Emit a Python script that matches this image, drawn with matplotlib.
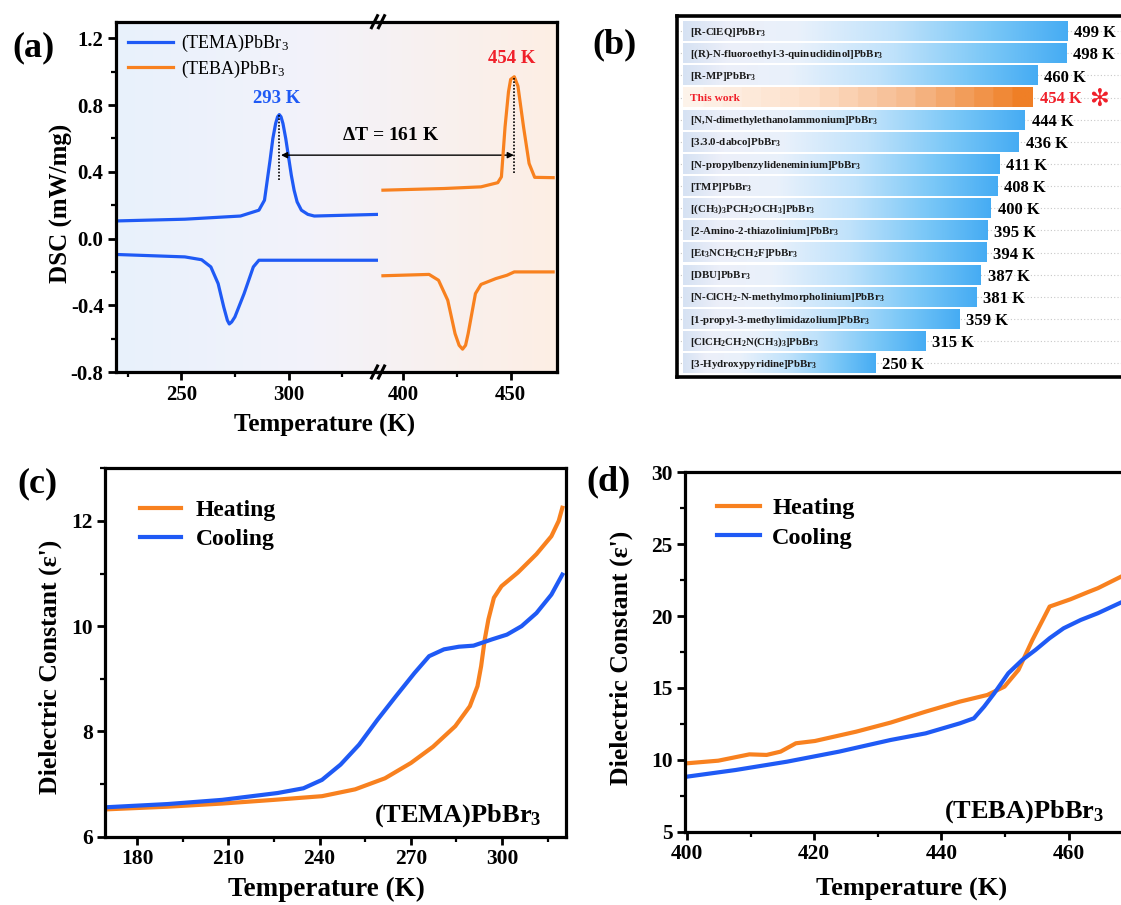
"""DSC / phase-transition comparison / dielectric constant figure"""

import matplotlib

matplotlib.use("Agg")
import matplotlib.pyplot as plt
import numpy as np
from matplotlib.colors import LinearSegmentedColormap
from matplotlib.lines import Line2D
from matplotlib.ticker import MultipleLocator

plt.rcParams["font.family"] = ["Liberation Serif", "DejaVu Serif"]
plt.rcParams["font.weight"] = "bold"
plt.rcParams["mathtext.fontset"] = "custom"
plt.rcParams["mathtext.rm"] = "Liberation Serif:bold"
plt.rcParams["mathtext.it"] = "Liberation Serif:italic:bold"
plt.rcParams["mathtext.bf"] = "Liberation Serif:bold"

BLUE = "#1f5af5"
ORANGE = "#f8811f"
RED = "#f0202a"

# ---------------- (a) DSC ----------------
tema_heat_T = [221.0, 251.7, 277.6, 286.2, 288.8, 291.4, 292.7, 294.0, 294.9, 295.7,
               296.5, 297.4, 298.7, 300.0, 301.3, 302.6, 304.0, 306.0, 309.0, 312.0, 342.2]
tema_heat_v = [0.106, 0.116, 0.135, 0.17, 0.23, 0.47, 0.60, 0.69, 0.73, 0.743,
               0.73, 0.69, 0.60, 0.49, 0.38, 0.29, 0.22, 0.17, 0.145, 0.135, 0.145]
tema_cool_T = [221.0, 251.7, 259.5, 263.8, 267.2, 269.8, 271.5, 272.4, 273.5, 275.0,
               279.3, 283.6, 286.2, 342.2]
tema_cool_v = [-0.096, -0.11, -0.127, -0.17, -0.27, -0.41, -0.49, -0.512, -0.50, -0.47,
               -0.33, -0.17, -0.13, -0.13]
teba_heat_T = [390.5, 419.0, 436.2, 444.0, 445.7, 447.4, 449.0, 450.0, 451.7, 453.4,
               456.0, 458.6, 461.2, 469.8]
teba_heat_v = [0.29, 0.30, 0.31, 0.335, 0.37, 0.67, 0.88, 0.954, 0.97, 0.914,
               0.67, 0.45, 0.367, 0.365]
teba_cool_T = [390.5, 412.0, 416.4, 420.7, 424.1, 426.0, 427.6, 429.0, 430.2, 433.6,
               436.2, 443.1, 448.3, 451.7, 469.8]
teba_cool_v = [-0.223, -0.215, -0.25, -0.37, -0.57, -0.64, -0.663, -0.64, -0.57, -0.33,
               -0.275, -0.24, -0.22, -0.20, -0.20]
tema_peak = (295.7, 0.743)
teba_peak = (451.7, 0.965)

# ---------------- (b) Tc comparison ----------------
compounds = [
    r"[R-ClEQ]PbBr$_\mathregular{3}$",
    r"[(R)-N-fluoroethyl-3-quinuclidinol]PbBr$_\mathregular{3}$",
    r"[R-MP]PbBr$_\mathregular{3}$",
    "This work",
    r"[N,N-dimethylethanolammonium]PbBr$_\mathregular{3}$",
    r"[3.3.0-dabco]PbBr$_\mathregular{3}$",
    r"[N-propylbenzylideneminium]PbBr$_\mathregular{3}$",
    r"[TMP]PbBr$_\mathregular{3}$",
    r"[(CH$_\mathregular{3}$)$_\mathregular{3}$PCH$_\mathregular{2}$OCH$_\mathregular{3}$]PbBr$_\mathregular{3}$",
    r"[2-Amino-2-thiazolinium]PbBr$_\mathregular{3}$",
    r"[Et$_\mathregular{3}$NCH$_\mathregular{2}$CH$_\mathregular{2}$F]PbBr$_\mathregular{3}$",
    r"[DBU]PbBr$_\mathregular{3}$",
    r"[N-ClCH$_\mathregular{2}$-N-methylmorpholinium]PbBr$_\mathregular{3}$",
    r"[1-propyl-3-methylimidazolium]PbBr$_\mathregular{3}$",
    r"[ClCH$_\mathregular{2}$CH$_\mathregular{2}$N(CH$_\mathregular{3}$)$_\mathregular{3}$]PbBr$_\mathregular{3}$",
    r"[3-Hydroxypyridine]PbBr$_\mathregular{3}$",
]
tc_values = [499, 498, 460, 454, 444, 436, 411, 408, 400, 395, 394, 387, 381, 359, 315, 250]
this_work_idx = 3

# ---------------- (c) (TEMA)PbBr3 dielectric ----------------
c_heat_T = [170.0, 190.0, 208.0, 225.0, 240.8, 251.7, 261.5, 270.0, 277.3, 284.6, 289.4,
            291.9, 293.1, 294.3, 295.5, 297.3, 299.8, 305.2, 311.3, 316.2, 318.6, 319.8]
c_heat_v = [6.52, 6.57, 6.63, 6.70, 6.77, 6.90, 7.11, 7.40, 7.71, 8.10, 8.48,
            8.86, 9.24, 9.75, 10.13, 10.54, 10.76, 11.02, 11.37, 11.71, 12.0, 12.25]
c_cool_T = [170.0, 190.0, 208.0, 226.2, 234.7, 240.8, 246.9, 253.0, 259.0, 265.1, 271.2,
            276.0, 280.9, 285.8, 290.6, 296.7, 301.6, 306.4, 311.3, 316.2, 319.8]
c_cool_v = [6.56, 6.62, 6.70, 6.83, 6.92, 7.08, 7.37, 7.75, 8.22, 8.67, 9.11,
            9.43, 9.56, 9.61, 9.63, 9.75, 9.84, 10.0, 10.25, 10.6, 10.98]

# ---------------- (d) (TEBA)PbBr3 dielectric ----------------
d_heat_T = [400.0, 404.9, 409.8, 412.5, 414.7, 417.1, 420.1, 426.6, 432.0, 437.5, 442.9,
            447.2, 449.9, 452.1, 454.3, 457.0, 460.3, 463.0, 464.6, 468.5]
d_heat_v = [9.76, 9.94, 10.38, 10.34, 10.57, 11.15, 11.31, 11.96, 12.59, 13.35, 14.05,
            14.51, 15.09, 16.25, 18.34, 20.66, 21.17, 21.66, 21.94, 22.8]
d_cool_T = [400.0, 407.6, 415.7, 423.9, 432.0, 437.5, 442.9, 445.1, 446.7, 448.3, 450.5,
            452.7, 454.8, 457.0, 459.2, 461.9, 464.6, 468.5]
d_cool_v = [8.83, 9.29, 9.87, 10.57, 11.38, 11.84, 12.54, 12.89, 13.7, 14.63, 16.02,
            16.95, 17.65, 18.46, 19.15, 19.73, 20.2, 21.0]

W, H = 1121, 905
fig = plt.figure(figsize=(W / 100, H / 100), dpi=100)


def px_axes(x0, y0, x1, y1, **kw):
    return fig.add_axes([x0 / W, 1 - y1 / H, (x1 - x0) / W, (y1 - y0) / H], **kw)


def fig_text(x, y, s, **kw):
    fig.text(x / W, 1 - y / H, s, **kw)


def style_axis(ax, size=15):
    for sp in ax.spines.values():
        sp.set_linewidth(2.3)
    ax.tick_params(which="major", direction="out", length=6, width=2, labelsize=size, pad=3)
    ax.tick_params(which="minor", direction="out", length=3.5, width=1.6)
    for lab in ax.get_xticklabels() + ax.get_yticklabels():
        lab.set_fontweight("bold")


# ---- panel (a) ----
bg = px_axes(116, 21.7, 557, 372)
bg_cmap = LinearSegmentedColormap.from_list(
    "bg", [(0.0, "#e8f1fc"), (0.45, "#f3f3fa"), (1.0, "#fdeee4")])
bg.imshow(np.linspace(0, 1, 256).reshape(1, -1), cmap=bg_cmap, aspect="auto",
          extent=[0, 1, 0, 1])
bg.axis("off")

axL = px_axes(116, 21.7, 378, 372)
axR = px_axes(378, 21.7, 557, 372)
for ax in (axL, axR):
    ax.set_facecolor("none")
    ax.set_ylim(-0.8, 1.3)
    ax.yaxis.set_major_locator(MultipleLocator(0.4))
    ax.yaxis.set_minor_locator(MultipleLocator(0.2))
    ax.xaxis.set_major_locator(MultipleLocator(50))
    ax.xaxis.set_minor_locator(MultipleLocator(25))
axL.set_xlim(219.6, 341.7)
axR.set_xlim(388.2, 471.6)
axL.set_yticks([-0.8, -0.4, 0.0, 0.4, 0.8, 1.2])
axL.set_yticklabels(["-0.8", "-0.4", "0.0", "0.4", "0.8", "1.2"])
axL.spines["right"].set_visible(False)
axR.spines["left"].set_visible(False)
axR.tick_params(axis="y", which="both", left=False, labelleft=False)
style_axis(axL)
style_axis(axR)

lb, = axL.plot(tema_heat_T, tema_heat_v, color=BLUE, lw=2.3, label=r"(TEMA)PbBr$_\mathregular{3}$")
axL.plot(tema_cool_T, tema_cool_v, color=BLUE, lw=2.3)
lo, = axR.plot(teba_heat_T, teba_heat_v, color=ORANGE, lw=2.3, label=r"(TEBA)PbBr$_\mathregular{3}$")
axR.plot(teba_cool_T, teba_cool_v, color=ORANGE, lw=2.3)

axL.plot([tema_peak[0]] * 2, [0.35, tema_peak[1]], color="black", ls=(0, (1, 1)), lw=1.2)
axR.plot([teba_peak[0]] * 2, [0.39, teba_peak[1]], color="black", ls=(0, (1, 1)), lw=1.2)
axL.annotate("", xy=(tema_peak[0] + 0.8, 0.50), xycoords=axL.transData,
             xytext=(teba_peak[0] - 0.2, 0.50), textcoords=axR.transData,
             arrowprops=dict(arrowstyle="<|-|>", color="black", lw=1.0,
                             mutation_scale=9, shrinkA=0, shrinkB=0))
axL.text(294.6, 0.84, "293 K", color=BLUE, fontsize=13.5, fontweight="bold",
         ha="center", va="center")
axR.text(450.6, 1.08, "454 K", color=RED, fontsize=13.5, fontweight="bold",
         ha="center", va="center")
fig_text(391, 136, r"$\mathit{\Delta}$T = 161 K", fontsize=14, fontweight="bold",
         ha="center", va="center")

leg = axL.legend(handles=[lb, lo], loc="upper left", bbox_to_anchor=(0.045, 0.968),
                 frameon=False, borderpad=0, borderaxespad=0, handlelength=2.5,
                 handletextpad=0.45, labelspacing=0.25,
                 prop={"size": 13, "weight": "normal", "family": "Liberation Serif"})
for t in leg.get_texts():
    t.set_fontweight("normal")

# break marks
for yb in (21.7, 372):
    for dx in (-3.5, 3.5):
        x0 = 378 + dx
        fig.add_artist(Line2D([(x0 - 3) / W, (x0 + 3) / W],
                              [1 - (yb + 6) / H, 1 - (yb - 6) / H],
                              color="black", lw=2.2, transform=fig.transFigure))

fig_text(61, 203, "DSC (mW/mg)", fontsize=18, fontweight="bold", rotation=90,
         ha="center", va="center")
fig_text(325, 425, "Temperature (K)", fontsize=18, fontweight="bold",
         ha="center", va="center")
fig_text(33, 48, "(a)", fontsize=26, fontweight="bold", ha="center", va="center")

# ---- panel (b) ----
axb = px_axes(677, 16, 1140, 377)
x_left = -7.8
x_right = (1140 - 683) / 0.77
axb.set_xticks([])
axb.set_yticks([])
for sp in axb.spines.values():
    sp.set_linewidth(2.6)

blue_cmap = LinearSegmentedColormap.from_list(
    "bars", [(0.0, "#d6e2f3"), (0.12, "#eceff9"), (0.3, "#e9f1fb"), (0.55, "#bfe2fb"),
             (0.8, "#79c7f7"), (1.0, "#46acf3")])
orange_cmap = LinearSegmentedColormap.from_list(
    "thiswork", [(0.0, "#fdf3ea"), (0.35, "#fde0ca"), (0.65, "#f6bb8f"), (1.0, "#ef7f26")], N=18)
grad = np.linspace(0, 1, 256).reshape(1, -1)
bar_h = 0.9

for i, (name, val) in enumerate(zip(compounds, tc_values)):
    axb.hlines(i, x_left, x_right, colors="#c8c8c8", linestyles=(0, (1, 2)), lw=0.8, zorder=0)
    cmap = orange_cmap if i == this_work_idx else blue_cmap
    axb.imshow(grad, cmap=cmap, aspect="auto", zorder=1,
               extent=[0, val, i + bar_h / 2, i - bar_h / 2])
    if i == this_work_idx:
        axb.text(9, i + 0.05, name, color=RED, fontsize=8.2, fontweight="bold",
                 ha="left", va="center", zorder=3)
        axb.text(val + 9, i + 0.05, f"{val} K", color=RED, fontsize=12,
                 fontweight="bold", ha="left", va="center", zorder=3)
        axb.text(val + 73, i + 0.05, "\u273b", color=RED, fontsize=17,
                 family="DejaVu Sans", fontweight="bold", ha="left", va="center", zorder=3)
    else:
        axb.text(9, i + 0.05, name, color="#1a1a1a", fontsize=7.8, fontweight="bold",
                 ha="left", va="center", zorder=3)
        axb.text(val + 9, i + 0.1, f"{val} K", color="black", fontsize=12,
                 fontweight="bold", ha="left", va="center", zorder=3)
axb.set_xlim(x_left, x_right)
axb.set_ylim(len(tc_values) - 0.38, -0.68)
fig_text(614, 45, "(b)", fontsize=26, fontweight="bold", ha="center", va="center")

# ---- panel (c) ----
axc = px_axes(105.4, 468.3, 566, 836.7)
axc.plot(c_heat_T, c_heat_v, color=ORANGE, lw=3, label="Heating")
axc.plot(c_cool_T, c_cool_v, color=BLUE, lw=3, label="Cooling")
axc.set_xlim(169.6, 321)
axc.set_ylim(6, 13)
axc.xaxis.set_major_locator(MultipleLocator(30))
axc.xaxis.set_minor_locator(MultipleLocator(15))
axc.yaxis.set_major_locator(MultipleLocator(2))
axc.yaxis.set_minor_locator(MultipleLocator(1))
style_axis(axc, 15.5)
axc.legend(loc="upper left", bbox_to_anchor=(0.075, 0.915), frameon=False, borderpad=0,
           borderaxespad=0, handlelength=1.75, handletextpad=0.6, labelspacing=0.32,
           prop={"size": 17, "weight": "bold"})
fig_text(542, 822, r"(TEMA)PbBr$_\mathregular{3}$", fontsize=19, fontweight="bold",
         ha="right", va="baseline")
fig_text(50, 667, "Dielectric Constant (\u03b5')", fontsize=18.5, fontweight="bold",
         rotation=90, ha="center", va="center")
fig_text(326, 889, "Temperature (K)", fontsize=19.5, fontweight="bold",
         ha="center", va="center")
fig_text(37, 484, "(c)", fontsize=26, fontweight="bold", ha="center", va="center")

# ---- panel (d) ----
axd = px_axes(685.2, 472.3, 1145, 831.7)
axd.plot(d_heat_T, d_heat_v, color=ORANGE, lw=3, label="Heating")
axd.plot(d_cool_T, d_cool_v, color=BLUE, lw=3, label="Cooling")
axd.set_xlim(399.7, 472)
axd.set_ylim(5, 30)
axd.xaxis.set_major_locator(MultipleLocator(20))
axd.xaxis.set_minor_locator(MultipleLocator(10))
axd.yaxis.set_major_locator(MultipleLocator(5))
axd.yaxis.set_minor_locator(MultipleLocator(2.5))
style_axis(axd, 15.5)
axd.legend(loc="upper left", bbox_to_anchor=(0.07, 0.93), frameon=False, borderpad=0,
           borderaxespad=0, handlelength=1.75, handletextpad=0.5, labelspacing=0.3,
           prop={"size": 17.5, "weight": "bold"})
fig_text(1104, 818, r"(TEBA)PbBr$_\mathregular{3}$", fontsize=19, fontweight="bold",
         ha="right", va="baseline")
fig_text(621, 658, "Dielectric Constant (\u03b5')", fontsize=18.5, fontweight="bold",
         rotation=90, ha="center", va="center")
fig_text(912, 889, "Temperature (K)", fontsize=19, fontweight="bold",
         ha="center", va="center")
fig_text(608, 482, "(d)", fontsize=26, fontweight="bold", ha="center", va="center")

fig.savefig("out.png", dpi=100)
